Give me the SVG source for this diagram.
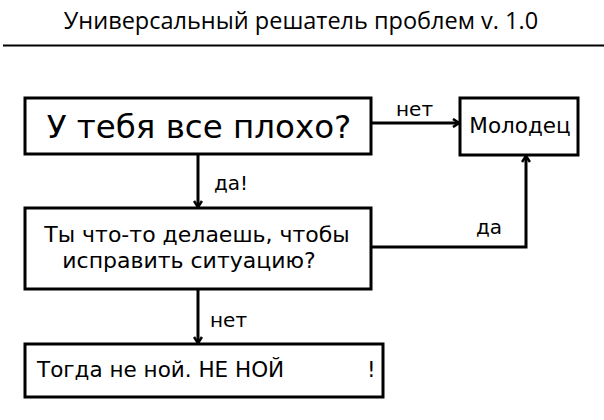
<svg xmlns="http://www.w3.org/2000/svg" width="604" height="420" viewBox="0 0 604 420">
<style>
.box{fill:#fff;stroke:#000;stroke-width:3}
.t{font-family:"DejaVu Sans","Noto Sans",sans-serif;fill:#000}
.lbl{font-family:"DejaVu Sans","Noto Sans",sans-serif;font-size:20px;fill:#000}
.c{fill:none;stroke:#000;stroke-width:3}
</style>
<defs>
<marker id="ah" viewBox="0 0 10 10" refX="9" refY="5" markerWidth="10" markerHeight="10" markerUnits="userSpaceOnUse" orient="auto">
<polyline points="3,1 9,5 3,9" fill="none" stroke="#000" stroke-width="2.6"/>
</marker>
</defs>
<rect width="604" height="420" fill="#fff"/>
<g id="title">
<text x="301" y="29" text-anchor="middle" font-family="'Open Sans','Noto Sans',sans-serif" font-size="23.5" fill="#000">Универсальный решатель проблем v. 1.0</text>
<line x1="3" y1="45.5" x2="604" y2="45.5" stroke="#000" stroke-width="2"/>
</g>
<g id="connectors">
<line class="c" x1="371" y1="123" x2="459" y2="123" marker-end="url(#ah)"/>
<text class="lbl" x="396" y="116">нет</text>
<line class="c" x1="198" y1="154" x2="198" y2="207" marker-end="url(#ah)"/>
<text class="lbl" x="214" y="190">да!</text>
<polyline class="c" points="371,247 526,247 526,156" marker-end="url(#ah)"/>
<text class="lbl" x="476" y="234">да</text>
<line class="c" x1="198" y1="289" x2="198" y2="343" marker-end="url(#ah)"/>
<text class="lbl" x="210" y="327">нет</text>
</g>
<g id="q1">
<rect class="box" x="25" y="98" width="346" height="56"/>
<text class="t" x="199" y="138" font-size="32.5" text-anchor="middle">У тебя все плохо?</text>
</g>
<g id="good">
<rect class="box" x="460" y="98" width="118" height="57"/>
<text class="t" x="520" y="133" font-size="21.5" text-anchor="middle">Молодец</text>
</g>
<g id="q2">
<rect class="box" x="25" y="208" width="346" height="81"/>
<text class="t" x="197" y="242" font-size="22" text-anchor="middle">Ты что-то делаешь, чтобы</text>
<text class="t" x="189" y="268" font-size="22" text-anchor="middle">исправить ситуацию?</text>
</g>
<g id="end">
<rect class="box" x="25" y="344" width="358" height="53"/>
<text class="t" x="37" y="377" font-size="21.5">Тогда не ной. НЕ НОЙ</text>
<text class="t" x="367" y="377" font-size="21.5">!</text>
</g>
</svg>
